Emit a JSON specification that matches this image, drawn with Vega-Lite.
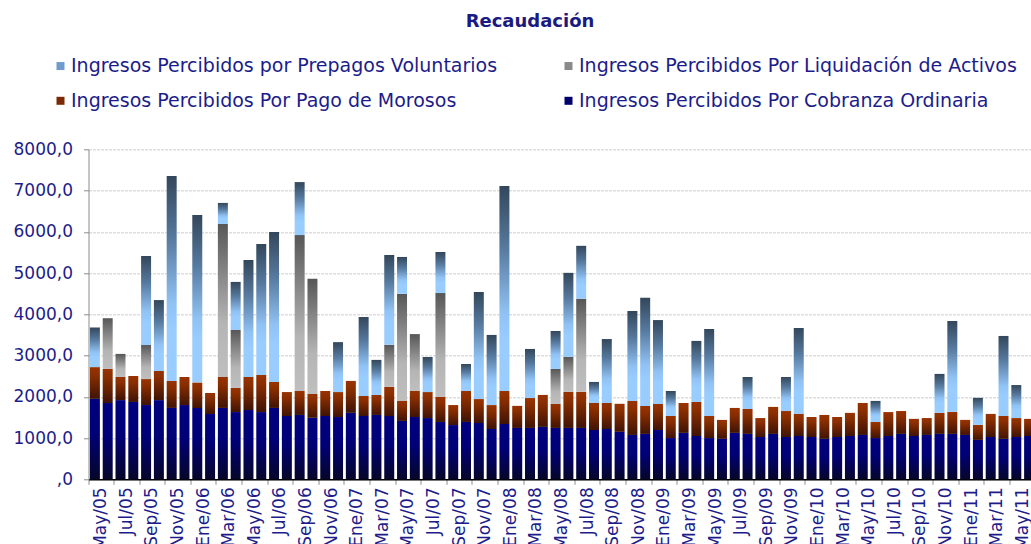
{
  "$schema": "https://vega.github.io/schema/vega-lite/v6.json",
  "autosize": "none",
  "width": 947,
  "height": 330,
  "padding": {"left": 88.5, "top": 149.3, "right": 0, "bottom": 64.7},
  "title": {
    "text": "Recaudación",
    "font": "DejaVu Sans",
    "fontSize": 18,
    "fontWeight": "bold",
    "color": "#1a1a80",
    "anchor": "middle",
    "baseline": "alphabetic",
    "dx": -32,
    "offset": 11
  },
  "data": {
    "values": [
      {"mes": "May/05", "cob": 1950, "mor": 770, "liq": 0, "pre": 960},
      {"mes": "Jun/05", "cob": 1850, "mor": 825, "liq": 1230, "pre": 0},
      {"mes": "Jul/05", "cob": 1920, "mor": 560, "liq": 560, "pre": 0},
      {"mes": "Ago/05", "cob": 1875, "mor": 630, "liq": 0, "pre": 0},
      {"mes": "Sep/05", "cob": 1800, "mor": 630, "liq": 825, "pre": 2160},
      {"mes": "Oct/05", "cob": 1920, "mor": 705, "liq": 0, "pre": 1720},
      {"mes": "Nov/05", "cob": 1730, "mor": 655, "liq": 0, "pre": 4970},
      {"mes": "Dic/05", "cob": 1800, "mor": 680, "liq": 0, "pre": 0},
      {"mes": "Ene/06", "cob": 1730, "mor": 605, "liq": 30, "pre": 4040},
      {"mes": "Feb/06", "cob": 1585, "mor": 510, "liq": 0, "pre": 0},
      {"mes": "Mar/06", "cob": 1730, "mor": 750, "liq": 3710, "pre": 510},
      {"mes": "Abr/06", "cob": 1630, "mor": 585, "liq": 1405, "pre": 1165},
      {"mes": "May/06", "cob": 1680, "mor": 800, "liq": 0, "pre": 2835},
      {"mes": "Jun/06", "cob": 1630, "mor": 900, "liq": 0, "pre": 3175},
      {"mes": "Jul/06", "cob": 1730, "mor": 630, "liq": 0, "pre": 3635},
      {"mes": "Ago/06", "cob": 1535, "mor": 580, "liq": 0, "pre": 0},
      {"mes": "Sep/06", "cob": 1560, "mor": 580, "liq": 3780, "pre": 1285},
      {"mes": "Oct/06", "cob": 1490, "mor": 580, "liq": 2790, "pre": 0},
      {"mes": "Nov/06", "cob": 1535, "mor": 605, "liq": 0, "pre": 0},
      {"mes": "Dic/06", "cob": 1510, "mor": 605, "liq": 0, "pre": 1210},
      {"mes": "Ene/07", "cob": 1610, "mor": 775, "liq": 0, "pre": 0},
      {"mes": "Feb/07", "cob": 1535, "mor": 485, "liq": 0, "pre": 1915},
      {"mes": "Mar/07", "cob": 1560, "mor": 485, "liq": 0, "pre": 850},
      {"mes": "Abr/07", "cob": 1535, "mor": 705, "liq": 1020, "pre": 2180},
      {"mes": "May/07", "cob": 1415, "mor": 485, "liq": 2595, "pre": 895},
      {"mes": "Jun/07", "cob": 1510, "mor": 630, "liq": 1380, "pre": 0},
      {"mes": "Jul/07", "cob": 1485, "mor": 630, "liq": 0, "pre": 850},
      {"mes": "Ago/07", "cob": 1390, "mor": 605, "liq": 2520, "pre": 995},
      {"mes": "Sep/07", "cob": 1315, "mor": 485, "liq": 0, "pre": 0},
      {"mes": "Oct/07", "cob": 1390, "mor": 750, "liq": 0, "pre": 655},
      {"mes": "Nov/07", "cob": 1365, "mor": 580, "liq": 0, "pre": 2595},
      {"mes": "Dic/07", "cob": 1220, "mor": 580, "liq": 0, "pre": 1700},
      {"mes": "Ene/08", "cob": 1340, "mor": 800, "liq": 0, "pre": 4970},
      {"mes": "Feb/08", "cob": 1245, "mor": 535, "liq": 0, "pre": 0},
      {"mes": "Mar/08", "cob": 1245, "mor": 725, "liq": 0, "pre": 1190},
      {"mes": "Abr/08", "cob": 1270, "mor": 775, "liq": 0, "pre": 0},
      {"mes": "May/08", "cob": 1245, "mor": 580, "liq": 850, "pre": 920},
      {"mes": "Jun/08", "cob": 1245, "mor": 875, "liq": 850, "pre": 2035},
      {"mes": "Jul/08", "cob": 1245, "mor": 875, "liq": 2255, "pre": 1285},
      {"mes": "Ago/08", "cob": 1195, "mor": 655, "liq": 0, "pre": 510},
      {"mes": "Sep/08", "cob": 1220, "mor": 630, "liq": 0, "pre": 1550},
      {"mes": "Oct/08", "cob": 1150, "mor": 680, "liq": 0, "pre": 0},
      {"mes": "Nov/08", "cob": 1075, "mor": 825, "liq": 0, "pre": 2180},
      {"mes": "Dic/08", "cob": 1100, "mor": 680, "liq": 0, "pre": 2620},
      {"mes": "Ene/09", "cob": 1195, "mor": 630, "liq": 0, "pre": 2035},
      {"mes": "Feb/09", "cob": 1000, "mor": 535, "liq": 0, "pre": 605},
      {"mes": "Mar/09", "cob": 1125, "mor": 725, "liq": 0, "pre": 0},
      {"mes": "Abr/09", "cob": 1050, "mor": 825, "liq": 0, "pre": 1480},
      {"mes": "May/09", "cob": 1000, "mor": 535, "liq": 0, "pre": 2110},
      {"mes": "Jun/09", "cob": 980, "mor": 460, "liq": 0, "pre": 0},
      {"mes": "Jul/09", "cob": 1125, "mor": 605, "liq": 0, "pre": 0},
      {"mes": "Ago/09", "cob": 1100, "mor": 605, "liq": 0, "pre": 775},
      {"mes": "Sep/09", "cob": 1025, "mor": 460, "liq": 0, "pre": 0},
      {"mes": "Oct/09", "cob": 1100, "mor": 655, "liq": 0, "pre": 0},
      {"mes": "Nov/09", "cob": 1025, "mor": 630, "liq": 0, "pre": 825},
      {"mes": "Dic/09", "cob": 1050, "mor": 535, "liq": 0, "pre": 2085},
      {"mes": "Ene/10", "cob": 1025, "mor": 485, "liq": 0, "pre": 0},
      {"mes": "Feb/10", "cob": 980, "mor": 580, "liq": 0, "pre": 0},
      {"mes": "Mar/10", "cob": 1025, "mor": 485, "liq": 0, "pre": 0},
      {"mes": "Abr/10", "cob": 1050, "mor": 560, "liq": 0, "pre": 0},
      {"mes": "May/10", "cob": 1075, "mor": 775, "liq": 0, "pre": 0},
      {"mes": "Jun/10", "cob": 1000, "mor": 390, "liq": 0, "pre": 510},
      {"mes": "Jul/10", "cob": 1050, "mor": 580, "liq": 0, "pre": 0},
      {"mes": "Ago/10", "cob": 1100, "mor": 555, "liq": 0, "pre": 0},
      {"mes": "Sep/10", "cob": 1050, "mor": 415, "liq": 0, "pre": 0},
      {"mes": "Oct/10", "cob": 1075, "mor": 410, "liq": 0, "pre": 0},
      {"mes": "Nov/10", "cob": 1100, "mor": 510, "liq": 0, "pre": 945},
      {"mes": "Dic/10", "cob": 1100, "mor": 535, "liq": 0, "pre": 2205},
      {"mes": "Ene/11", "cob": 1075, "mor": 365, "liq": 0, "pre": 0},
      {"mes": "Feb/11", "cob": 955, "mor": 365, "liq": 0, "pre": 655},
      {"mes": "Mar/11", "cob": 1025, "mor": 560, "liq": 0, "pre": 0},
      {"mes": "Abr/11", "cob": 980, "mor": 555, "liq": 0, "pre": 1940},
      {"mes": "May/11", "cob": 1025, "mor": 460, "liq": 0, "pre": 800},
      {"mes": "Jun/11", "cob": 1050, "mor": 415, "liq": 0, "pre": 0}
    ]
  },
  "transform": [
    {"fold": ["cob", "mor", "liq", "pre"], "as": ["serie", "valor"]},
    {"calculate": "indexof(['cob','mor','liq','pre'], datum.serie)", "as": "orden"},
    {"stack": "valor", "groupby": ["mes"], "sort": [{"field": "orden", "order": "ascending"}], "as": ["v0", "v1"]}
  ],
  "encoding": {
    "x": {
      "field": "mes",
      "type": "ordinal",
      "sort": null,
      "scale": {"paddingInner": 0.22, "paddingOuter": 0.11},
      "axis": {
        "title": null,
        "values": ["May/05","Jul/05","Sep/05","Nov/05","Ene/06","Mar/06","May/06","Jul/06","Sep/06","Nov/06","Ene/07","Mar/07","May/07","Jul/07","Sep/07","Nov/07","Ene/08","Mar/08","May/08","Jul/08","Sep/08","Nov/08","Ene/09","Mar/09","May/09","Jul/09","Sep/09","Nov/09","Ene/10","Mar/10","May/10","Jul/10","Sep/10","Nov/10","Ene/11","Mar/11","May/11"],
        "bandPosition": -0.14,
        "labelOffset": 6.4,
        "labelAngle": -90,
        "labelAlign": "right",
        "labelBaseline": "middle",
        "labelPadding": 2.5,
        "labelFont": "DejaVu Sans",
        "labelFontSize": 17,
        "labelColor": "#1c1c8a",
        "tickColor": "#8c8c8c",
        "tickSize": 5,
        "domainColor": "#000000",
        "domainWidth": 1.5,
        "grid": false,
        "labelOverlap": false
      }
    },
    "y": {
      "field": "v1",
      "type": "quantitative",
      "scale": {"domain": [0, 8000], "nice": false},
      "axis": {
        "title": null,
        "values": [0, 1000, 2000, 3000, 4000, 5000, 6000, 7000, 8000],
        "labelExpr": "datum.value == 0 ? ',0' : replace(format(datum.value, '.1f'), '.', ',')",
        "labelFont": "DejaVu Sans",
        "labelFontSize": 17,
        "labelColor": "#1c1c8a",
        "labelPadding": 11,
        "tickColor": "#8c8c8c",
        "tickSize": 5,
        "domainColor": "#8c8c8c",
        "grid": true,
        "gridColor": "#dedede",
        "gridWidth": 1.5,
        "gridDash": [3, 1]
      }
    },
    "y2": {"field": "v0"}
  },
  "layer": [
    {
      "mark": {"type": "bar", "opacity": 0},
      "encoding": {
        "color": {
          "field": "serie",
          "type": "nominal",
          "scale": {
            "domain": ["pre", "liq", "mor", "cob"],
            "range": ["#6f9ccc", "#8a8a8a", "#7a2a05", "#00006e"]
          },
          "legend": {
            "title": null,
            "orient": "none",
            "legendX": -37.5,
            "legendY": -93,
            "direction": "horizontal",
            "columns": 2,
            "columnPadding": 61,
            "rowPadding": 15,
            "padding": 0,
            "symbolType": "square",
            "symbolSize": 64,
            "symbolStrokeWidth": 0,
            "symbolOpacity": 1,
            "labelOffset": 1,
            "labelFont": "DejaVu Sans",
            "labelFontSize": 19,
            "labelColor": "#1c1c8a",
            "labelLimit": 700,
            "labelExpr": "datum.label == 'pre' ? 'Ingresos Percibidos por Prepagos Voluntarios' : datum.label == 'liq' ? 'Ingresos Percibidos Por Liquidación de Activos' : datum.label == 'mor' ? 'Ingresos Percibidos Por Pago de Morosos' : 'Ingresos Percibidos Por Cobranza Ordinaria'"
          }
        }
      }
    },
    {
      "transform": [{"filter": "datum.serie === 'cob'"}],
      "mark": {"type": "bar", "strokeWidth": 0, "fill": {"gradient": "linear", "x1": 0, "y1": 0, "x2": 0, "y2": 1, "stops": [
        {"offset": 0, "color": "#000080"},
        {"offset": 0.45, "color": "#000076"},
        {"offset": 1, "color": "#06062a"}]}}
    },
    {
      "transform": [{"filter": "datum.serie === 'mor'"}],
      "mark": {"type": "bar", "strokeWidth": 0, "fill": {"gradient": "linear", "x1": 0, "y1": 0, "x2": 0, "y2": 1, "stops": [
        {"offset": 0, "color": "#993300"},
        {"offset": 0.25, "color": "#8a2e00"},
        {"offset": 1, "color": "#3f1305"}]}}
    },
    {
      "transform": [{"filter": "datum.serie === 'liq'"}],
      "mark": {"type": "bar", "strokeWidth": 0, "fill": {"gradient": "linear", "x1": 0, "y1": 0, "x2": 0, "y2": 1, "stops": [
        {"offset": 0, "color": "#575757"},
        {"offset": 0.65, "color": "#b5b5b5"},
        {"offset": 1, "color": "#bfbfbf"}]}}
    },
    {
      "transform": [{"filter": "datum.serie === 'pre'"}],
      "mark": {"type": "bar", "strokeWidth": 0, "fill": {"gradient": "linear", "x1": 0, "y1": 0, "x2": 0, "y2": 1, "stops": [
        {"offset": 0, "color": "#33475b"},
        {"offset": 0.3, "color": "#56799e"},
        {"offset": 0.62, "color": "#90c2f4"},
        {"offset": 0.75, "color": "#99ccff"},
        {"offset": 1, "color": "#99ccff"}]}}
    }
  ],
  "config": {
    "view": {"stroke": null},
    "font": "DejaVu Sans",
    "background": "#ffffff"
  }
}
